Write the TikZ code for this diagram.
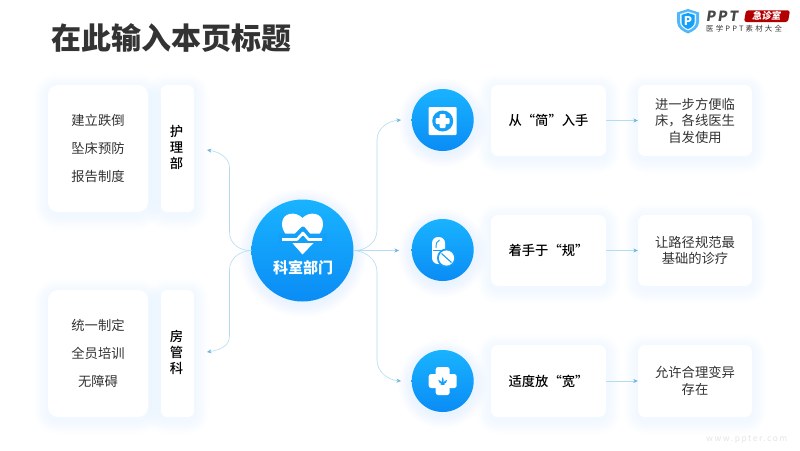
\documentclass[tikz,border=0pt]{standalone}
\usepackage{fontspec}
\setmainfont{Noto Sans CJK SC}
\newfontfamily\medfont{Noto Sans CJK SC Medium}
\usetikzlibrary{arrows.meta,calc}
\definecolor{topblue}{HTML}{19B3FF}
\definecolor{botblue}{HTML}{0A8CF5}
\definecolor{midblue}{HTML}{149FF8}
\definecolor{shadowblue}{HTML}{A8D8FF}
\definecolor{wire}{HTML}{B4DCF0}
\definecolor{tipc}{HTML}{6FB4DC}
\definecolor{ink}{HTML}{333333}
\tikzset{
  card/.style={fill=white,rounded corners=#1,inner sep=0pt,text=ink,align=center,font=\fontsize{13.3}{16.5}\selectfont},
  card/.default=9pt,
  wirearrow/.style={draw=wire,line width=0.6pt,-{Stealth[length=4.5pt,width=4pt,color=tipc]}},
  disc/.style={circle,inner sep=0pt,top color=topblue,bottom color=botblue},
}
\newcommand{\softshadow}[5]{%
  \foreach \s in {14,12,...,2}{
    \fill[shadowblue,opacity=0.018,rounded corners=#5+\s] (#1-\s,#2-\s+3) rectangle (#3+\s,#4+\s+3);
  }}
\newcommand{\softround}[3]{%
  \foreach \s in {13,11,...,1}{
    \fill[shadowblue,opacity=0.03] (#1,#2+3) circle[radius=#3+\s];
  }}
\begin{document}
\begin{tikzpicture}[x=1pt,y=-1pt]
\useasboundingbox (0,0) rectangle (800,450);
\fill[white] (0,0) rectangle (800,450);

% title
\node[anchor=west,inner sep=0pt,text=ink,font=\fontsize{30}{32}\bfseries] (title) at (51,38) {在此输入本页标题};

% shadows
\softshadow{48}{85}{148}{212}{10}
\softshadow{161}{85}{194}{212}{6}
\softshadow{48}{290}{148}{417}{10}
\softshadow{161}{290}{194}{417}{6}
\softshadow{491}{85}{606}{156}{7}
\softshadow{638}{85}{752}{156}{7}
\softshadow{491}{215}{606}{286}{7}
\softshadow{638}{215}{752}{286}{7}
\softshadow{491}{345}{606}{417}{7}
\softshadow{638}{345}{752}{417}{7}
\softround{302.5}{250}{51}
\softround{442.7}{120}{31}
\softround{442.7}{250}{31}
\softround{442.7}{381}{31}

% left cards
\node[card=10pt,minimum width=100pt,minimum height=127pt,font=\fontsize{13.3}{28}\selectfont] (a1) at (98,148.5) {建立跌倒\\坠床预防\\报告制度};
\node[card=6pt,minimum width=33pt,minimum height=127pt] (a2) at (177.5,148.5) {};
\node[inner sep=0pt,align=center,text=black,font=\fontsize{13.3}{16}\medfont] (a2t) at (176.5,147) {护\\理\\部};
\node[card=10pt,minimum width=100pt,minimum height=127pt,font=\fontsize{13.3}{28}\selectfont] (b1) at (98,353.5) {统一制定\\全员培训\\无障碍};
\node[card=6pt,minimum width=33pt,minimum height=127pt] (b2) at (177.5,353.5) {};
\node[inner sep=0pt,align=center,text=black,font=\fontsize{13.3}{16}\medfont] (b2t) at (176.5,352) {房\\管\\科};

% right cards
\node[card=7pt,minimum width=115pt,minimum height=71pt,text=black,font=\fontsize{13.3}{16.5}\medfont] (c1) at (548.5,120.5) {从“简”入手};
\node[card=7pt,minimum width=114pt,minimum height=71pt] (d1) at (695,120.5) {进一步方便临\\床，各线医生\\自发使用};
\node[card=7pt,minimum width=115pt,minimum height=71pt,text=black,font=\fontsize{13.3}{16.5}\medfont] (c2) at (548.5,250.5) {着手于“规”};
\node[card=7pt,minimum width=114pt,minimum height=71pt] (d2) at (695,250.5) {让路径规范最\\基础的诊疗};
\node[card=7pt,minimum width=115pt,minimum height=72pt,text=black,font=\fontsize{13.3}{16.5}\medfont] (c3) at (548.5,381) {适度放“宽”};
\node[card=7pt,minimum width=114pt,minimum height=72pt] (d3) at (695,381) {允许合理变异\\存在};

% discs
\node[disc,minimum size=102pt] (hub) at (302.5,250.5) {};
\node[disc,minimum size=62pt] (i1) at (442.7,120) {};
\node[disc,minimum size=62pt] (i2) at (442.7,250) {};
\node[disc,minimum size=62pt] (i3) at (442.7,381) {};

% free ends
\coordinate (ta) at (207,150);
\coordinate (tb) at (207,352);
\coordinate (t1) at (401,120);
\coordinate (t2) at (399,250.5);
\coordinate (t3) at (401,381);

% connectors
\draw[wirearrow] (hub.west) .. controls (240,251) and (229.5,244) .. (229.5,232) -- (229.5,168) .. controls (229.5,158) and (220,152) .. (ta);
\draw[wirearrow] (hub.west) .. controls (240,251) and (229.5,258) .. (229.5,270) -- (229.5,336) .. controls (229.5,346) and (220,350) .. (tb);
\draw[wirearrow] (hub.east) .. controls (365,251) and (377,243) .. (377,230) -- (377,140) .. controls (377,128) and (388,121) .. (t1);
\draw[wirearrow] (hub.east) -- (t2);
\draw[wirearrow] (hub.east) .. controls (365,251) and (377,259) .. (377,272) -- (377,360) .. controls (377,372) and (388,380) .. (t3);
\draw[wirearrow] (c1.east) -- (d1.west);
\draw[wirearrow] (c2.east) -- (d2.west);
\draw[wirearrow] (c3.east) -- (d3.west);

% hub icon
\fill[white] (302.5,218) .. controls (296,211) and (282,212) .. (282,224) .. controls (282,233) and (291,241) .. (302.5,254) .. controls (314,241) and (323,233) .. (323,224) .. controls (323,212) and (309,211) .. (302.5,218) -- cycle;
\fill[midblue] (278,236) rectangle (327,243);
\fill[white] (292.5,243) -- (313.5,243) -- (302.5,254.5) -- cycle;
\draw[midblue,line width=4pt,line join=round] (278,235.5) -- (296,235.5) -- (303,228.5) -- (309,235.5) -- (327,235.5);
\fill[midblue] (278,237) rectangle (327,243);
\draw[white,line width=2.6pt,line join=round] (282,239.5) -- (297,239.5) -- (303,233) -- (308.5,239.5) -- (322,239.5);
\node[text=white,font=\fontsize{15}{17}\bfseries,inner sep=0pt] (hubt) at (303,268) {科室部门};

% icon 1
\fill[white,rounded corners=1pt] (428.7,107) rectangle (456.7,135);
\fill[midblue] (442.7,121) circle[radius=10.5];
\fill[white,rounded corners=1pt] (439.7,114) rectangle (445.7,128);
\fill[white,rounded corners=1pt] (435.7,118) rectangle (449.7,124);

% icon 2
\fill[white,rounded corners=6pt] (432,237) rectangle (445,264);
\draw[midblue,line width=0.9pt] (433,250.3) -- (444,250.3);
\draw[midblue,line width=0.9pt] (436,248) .. controls (436,243) and (437,241) .. (439.5,240);
\fill[midblue] (446.5,258) circle[radius=9.5];
\fill[white] (446.5,258) circle[radius=7.6];
\draw[midblue,line width=1.1pt] (441.5,253.5) -- (451.5,262.5);

% icon 3
\fill[white,rounded corners=2.5pt] (435.7,367) rectangle (449.7,395);
\fill[white,rounded corners=2.5pt] (428.7,374) rectangle (456.7,388);
\fill[midblue,shift={(442.7,381)},scale=0.72,shift={(-442.7,-381)}] (442.7,375.5) .. controls (444,378.5) and (444.5,380) .. (443.7,383) .. controls (445,381) and (447,380) .. (449,379.5) .. controls (448.5,382.5) and (446.5,384.5) .. (444,385.5) -- (446.5,386.5) -- (439,386.5) -- (441.5,385.5) .. controls (439,384.5) and (437,382.5) .. (436.5,379.5) .. controls (438.5,380) and (440.5,381) .. (441.8,383) .. controls (441,380) and (441.5,378.5) .. (442.7,375.5) -- cycle;

% logo
\fill[midblue!75!white] (677,12.5) -- (688,9) -- (699,12.5) -- (699,22) .. controls (699,28) and (693,31.5) .. (688,33.5) .. controls (683,31.5) and (677,28) .. (677,22) -- cycle;
\fill[white,opacity=.85] (680,14) -- (688,11.5) -- (696,14) -- (696,22) .. controls (696,26) and (692,29) .. (688,30.5) .. controls (684,29) and (680,26) .. (680,22) -- cycle;
\fill[midblue] (681.5,15) -- (688,13) -- (694.5,15) -- (694.5,22) .. controls (694.5,25.5) and (691,28) .. (688,29) .. controls (685,28) and (681.5,25.5) .. (681.5,22) -- cycle;
\node[text=white,inner sep=0pt,font=\fontsize{12}{13}\bfseries] (lp) at (688,21) {P};
\node[anchor=west,inner sep=0pt,text=ink!90,font=\fontsize{14}{15}\bfseries\addfontfeatures{LetterSpace=14},xslant=0.15] (lg) at (706.5,15.8) {PPT};
\fill[red!70!black,rounded corners=2.5pt] (746,10.3) -- (790,10.3) -- (788,22) -- (744,22) -- cycle;
\node[text=white,inner sep=0pt,font=\fontsize{9.5}{10}\bfseries,xslant=0.15] (lb) at (767,16) {急诊室};
\node[anchor=west,inner sep=0pt,text=ink,font=\fontsize{7.4}{8}\selectfont\addfontfeatures{LetterSpace=30}] (ls) at (706,29) {医学PPT素材大全};

% watermark
\node[anchor=west,inner sep=0pt,text=black!10,font=\fontsize{8.5}{10}\selectfont\addfontfeatures{LetterSpace=18}] (wm) at (706,440) {www.ppter.com};
\end{tikzpicture}
\end{document}
